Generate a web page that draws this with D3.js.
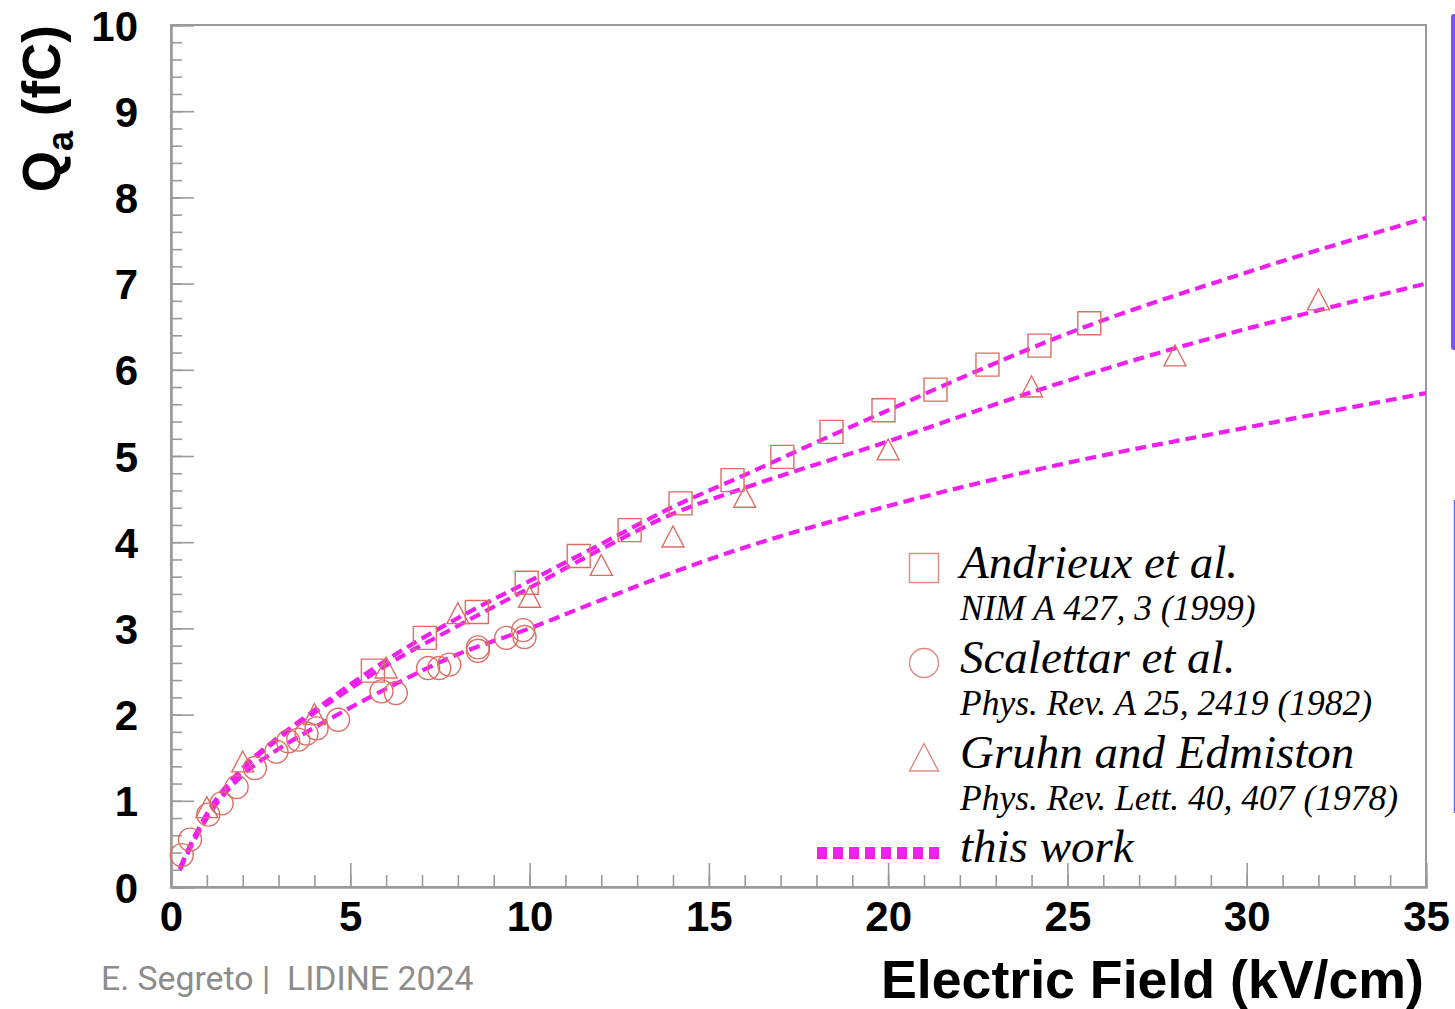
<!DOCTYPE html>
<html>
<head>
<meta charset="utf-8">
<script src="https://cdn.jsdelivr.net/npm/d3@7"></script>
<style>
  html, body { margin: 0; padding: 0; background: #ffffff; }
  svg { display: block; }
</style>
</head>
<body>
<svg id="chart" width="1455" height="1009"></svg>
<script>
// ---- Measurements: anode charge vs drift field ----
const andrieuxField  = [5.63, 7.08, 8.53, 9.92, 11.37, 12.79, 14.21, 15.66, 17.05, 18.42, 19.87, 21.32, 22.77, 24.22, 25.61];
const andrieuxCharge = [2.51, 2.89, 3.19, 3.53, 3.84, 4.14, 4.45, 4.72, 4.99, 5.28, 5.53, 5.77, 6.06, 6.28, 6.54];

const scalettarField  = [0.30, 0.53, 1.04, 1.41, 1.83, 2.34, 2.94, 3.27, 3.55, 3.78, 4.06, 4.66, 5.87, 6.27, 7.17, 7.48, 7.76, 8.56, 8.56, 9.35, 9.82, 9.86];
const scalettarCharge = [0.37, 0.55, 0.84, 0.97, 1.16, 1.38, 1.57, 1.69, 1.71, 1.78, 1.84, 1.94, 2.27, 2.25, 2.54, 2.54, 2.58, 2.78, 2.74, 2.89, 2.98, 2.90];

const gruhnField  = [1, 2, 4, 6, 8, 10, 12, 14, 16, 20, 24, 28, 32];
const gruhnCharge = [0.92, 1.45, 2.00, 2.54, 3.17, 3.36, 3.73, 4.06, 4.52, 5.07, 5.80, 6.16, 6.81];

// ---- Model curves ("this work"), one per data set ----
const fitAField  = [0.25, 0.5, 1, 2, 3, 4, 5, 6, 8, 10, 12, 14, 16, 18, 20, 22, 25, 30, 35];
const fitACharge = [0.22, 0.45, 0.85, 1.38, 1.74, 2.05, 2.35, 2.63, 3.12, 3.55, 3.98, 4.41, 4.78, 5.16, 5.53, 5.90, 6.42, 7.13, 7.76];

const fitBField  = [0.25, 0.5, 1, 2, 3, 4, 5, 6, 8, 10, 12, 14, 16, 20, 24, 28, 32, 35];
const fitBCharge = [0.22, 0.45, 0.84, 1.36, 1.72, 2.02, 2.30, 2.57, 3.03, 3.47, 3.92, 4.33, 4.63, 5.17, 5.74, 6.25, 6.69, 7.00];

const fitCField  = [0.25, 0.5, 1, 2, 3, 4, 5, 6, 8, 10, 12, 15, 20, 25, 30, 35];
const fitCCharge = [0.20, 0.42, 0.80, 1.30, 1.60, 1.85, 2.08, 2.30, 2.70, 3.00, 3.33, 3.80, 4.42, 4.92, 5.33, 5.73];

// ---- Axis ticks ----
const fieldTicks  = [0, 5, 10, 15, 20, 25, 30, 35];
const chargeTicks = [0, 1, 2, 3, 4, 5, 6, 7, 8, 9, 10];

// ---- Legend entries ----
const legendTitles = ["Andrieux et al.", "Scalettar et al.", "Gruhn and Edmiston"];
const legendRefs   = ["NIM A 427, 3 (1999)", "Phys. Rev. A 25, 2419 (1982)", "Phys. Rev. Lett. 40, 407 (1978)"];
const legendShapes = ["square", "circle", "triangle"];
const fitLabel     = "this work";

// ---- Layout ----
const svg = d3.select("#chart");
const plot = { left: 171, right: 1426, top: 25, bottom: 887 };
const x = d3.scaleLinear().domain([0, 35]).range([plot.left, plot.right]);
const y = d3.scaleLinear().domain([0, 10]).range([plot.bottom, plot.top]);

const frameColor = "#9a9a9a";
const markerColor = "#dc6e64";
const fitColor = "#f01ff0";
const tickFont = "'Liberation Sans', Arial, Helvetica, sans-serif";
const serif = "'Liberation Serif', 'Times New Roman', Times, serif";

// slide decorations at the right edge
svg.append("rect").attr("x", 1451).attr("y", 14).attr("width", 6).attr("height", 336)
  .attr("rx", 3).attr("fill", "#7b52fb");
svg.append("line").attr("x1", 1454.5).attr("x2", 1454.5).attr("y1", 500).attr("y2", 813)
  .attr("stroke", "#5d6dff").attr("stroke-width", 1.5);

// frame
svg.append("rect")
  .attr("x", plot.left).attr("y", plot.top)
  .attr("width", plot.right - plot.left).attr("height", plot.bottom - plot.top)
  .attr("fill", "none").attr("stroke", frameColor).attr("stroke-width", 2);

// x axis: minor ticks every 1 kV/cm, major every 5
const xMinor = svg.append("g").attr("transform", `translate(0,${plot.bottom})`)
  .call(d3.axisBottom(x).tickValues(d3.range(0, 36, 1)).tickSize(-12).tickFormat(""));
const xMajor = svg.append("g").attr("transform", `translate(0,${plot.bottom})`)
  .call(d3.axisBottom(x).tickValues(fieldTicks).tickSize(-24).tickPadding(14).tickFormat(d3.format("d")));

// y axis: minor ticks every 0.2 fC, major every 1
const yMinor = svg.append("g").attr("transform", `translate(${plot.left},0)`)
  .call(d3.axisLeft(y).tickValues(d3.range(0, 50, 1).map(v => v * 0.2)).tickSize(-11).tickFormat(""));
const yMajor = svg.append("g").attr("transform", `translate(${plot.left},0)`)
  .call(d3.axisLeft(y).tickValues(chargeTicks).tickSize(-23).tickPadding(33).tickFormat(d3.format("d")));

[xMinor, xMajor, yMinor, yMajor].forEach(g => {
  g.select(".domain").attr("stroke", frameColor).attr("stroke-width", 2);
  g.selectAll(".tick line").attr("stroke", frameColor).attr("stroke-width", 1.6);
  g.selectAll(".tick text")
    .attr("fill", "#000").attr("font-family", tickFont)
    .attr("font-weight", "bold").attr("font-size", 42);
});
yMajor.selectAll(".tick text").attr("dy", "0.36em");

// axis titles
svg.append("text")
  .attr("x", 1424).attr("y", 998)
  .attr("text-anchor", "end")
  .attr("font-family", tickFont).attr("font-weight", "bold").attr("font-size", 53.7)
  .attr("fill", "#000")
  .text("Electric Field (kV/cm)");

const yTitle = svg.append("text")
  .attr("transform", "translate(60,25) rotate(-90)")
  .attr("text-anchor", "end")
  .attr("font-family", tickFont).attr("font-weight", "bold").attr("font-size", 53)
  .attr("fill", "#000");
yTitle.append("tspan").text("Q");
yTitle.append("tspan").attr("font-size", 36).attr("dy", 13).text("a");
yTitle.append("tspan").attr("dy", -13).text(" (fC)");

// footer
svg.append("text")
  .attr("x", 101).attr("y", 990)
  .attr("xml:space", "preserve").style("white-space", "pre")
  .attr("font-family", "Roboto, 'Noto Sans', sans-serif").attr("font-size", 33.8)
  .attr("fill", "#8c8c8c")
  .text("E. Segreto |  LIDINE 2024");

// model curves
svg.append("clipPath").attr("id", "plot-clip")
  .append("rect").attr("x", plot.left).attr("y", plot.top)
  .attr("width", plot.right - plot.left).attr("height", plot.bottom - plot.top);

const line = d3.line().x(d => x(d[0])).y(d => y(d[1])).curve(d3.curveMonotoneX);
const fits = [
  d3.zip(fitAField, fitACharge),
  d3.zip(fitBField, fitBCharge),
  d3.zip(fitCField, fitCCharge)
];
svg.append("g").attr("clip-path", "url(#plot-clip)")
  .selectAll("path").data(fits).join("path")
  .attr("d", line)
  .attr("fill", "none").attr("stroke", fitColor)
  .attr("stroke-width", 4.2).attr("stroke-dasharray", "11,6");

// marker shapes
function markerPath(shape, s) {
  const h = s / 2;
  if (shape === "square") return `M${-h},${-h}H${h}V${h}H${-h}Z`;
  if (shape === "triangle") return `M0,${-h}L${h},${h * 0.9}L${-h},${h * 0.9}Z`;
  return d3.arc()({ innerRadius: 0, outerRadius: h, startAngle: 0, endAngle: 2 * Math.PI });
}

function drawMarkers(fields, charges, shape, size) {
  svg.append("g").selectAll("path").data(d3.zip(fields, charges)).join("path")
    .attr("transform", d => `translate(${x(d[0])},${y(d[1])})`)
    .attr("d", markerPath(shape, size))
    .attr("fill", "none").attr("stroke", markerColor).attr("stroke-width", 1.4);
}
drawMarkers(scalettarField, scalettarCharge, "circle", 23);
drawMarkers(andrieuxField, andrieuxCharge, "square", 23);
drawMarkers(gruhnField, gruhnCharge, "triangle", 22);

// legend
const legend = svg.append("g");
const legendRows = [578, 673, 768];
legendTitles.forEach((t, i) => {
  const by = legendRows[i];
  legend.append("path")
    .attr("transform", `translate(924,${by - 10})`)
    .attr("d", markerPath(legendShapes[i], 29))
    .attr("fill", "none").attr("stroke", "#e08a84").attr("stroke-width", 1.4);
  legend.append("text")
    .attr("x", 960).attr("y", by)
    .attr("font-family", serif).attr("font-style", "italic").attr("font-size", 47)
    .attr("fill", "#000").text(t);
  legend.append("text")
    .attr("x", 960).attr("y", by + 42)
    .attr("font-family", serif).attr("font-style", "italic").attr("font-size", 35.5)
    .attr("fill", "#000").text(legendRefs[i]);
});
legend.append("line")
  .attr("x1", 817).attr("x2", 943).attr("y1", 853).attr("y2", 853)
  .attr("stroke", fitColor).attr("stroke-width", 12).attr("stroke-dasharray", "10,6");
legend.append("text")
  .attr("x", 960).attr("y", 862)
  .attr("font-family", serif).attr("font-style", "italic").attr("font-size", 47)
  .attr("fill", "#000").text(fitLabel);
</script>
</body>
</html>
